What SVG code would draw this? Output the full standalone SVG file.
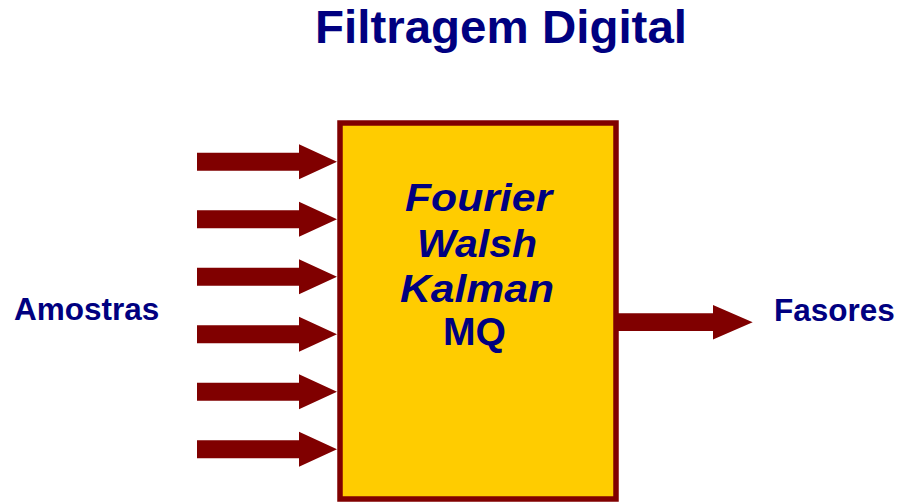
<svg xmlns="http://www.w3.org/2000/svg" width="899" height="502" viewBox="0 0 899 502">
<defs>
<style>
.t{font-family:"Liberation Sans",Arial,sans-serif;font-weight:bold;fill:#000080}
.bi{font-style:italic}
.arr{fill:#800000}
</style>
<path id="a" class="arr" d="M0,-9 H102 V-17.5 L140,0 L102,17.5 V9 H0 Z"/>
</defs>
<rect width="899" height="502" fill="#ffffff"/>
<text class="t" x="501" y="43" font-size="47" text-anchor="middle" textLength="372" lengthAdjust="spacingAndGlyphs">Filtragem Digital</text>
<g id="connectors">
<use href="#a" x="197" y="161.7"/>
<use href="#a" x="197" y="219.2"/>
<use href="#a" x="197" y="276.7"/>
<use href="#a" x="197" y="334.2"/>
<use href="#a" x="197" y="391.7"/>
<use href="#a" x="197" y="449.2"/>
<path class="arr" d="M612,313.3 H713 V305 L752.7,322.3 L713,339.6 V330.9 H612 Z"/>
</g>
<g id="filtro">
<rect x="340" y="123" width="276" height="376" fill="#FFCC00" stroke="#800000" stroke-width="5.5"/>
<text class="t bi" x="478.5" y="211" font-size="38" text-anchor="middle" textLength="147" lengthAdjust="spacingAndGlyphs">Fourier</text>
<text class="t bi" x="477" y="256.5" font-size="38" text-anchor="middle" textLength="120" lengthAdjust="spacingAndGlyphs">Walsh</text>
<text class="t bi" x="477" y="301.5" font-size="38" text-anchor="middle" textLength="154" lengthAdjust="spacingAndGlyphs">Kalman</text>
<text class="t" x="474.5" y="345" font-size="38" text-anchor="middle" textLength="63" lengthAdjust="spacingAndGlyphs">MQ</text>
</g>
<g id="amostras">
<text class="t" x="14" y="320" font-size="31.5">Amostras</text>
</g>
<g id="fasores">
<text class="t" x="774" y="321" font-size="31.5">Fasores</text>
</g>
</svg>
